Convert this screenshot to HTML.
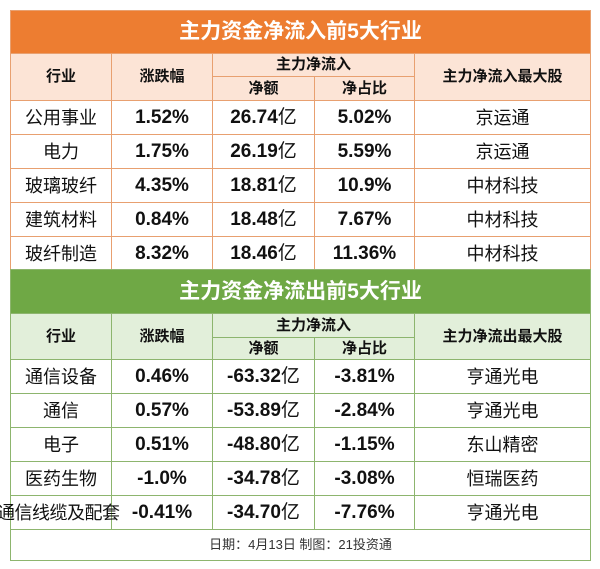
<!DOCTYPE html>
<html><head><meta charset="utf-8"><style>
body{margin:0;background:#fff;width:600px;height:569px;overflow:hidden;font-family:"Liberation Sans","Noto Sans CJK SC",sans-serif;}
table{position:absolute;left:10px;width:580px;border-collapse:collapse;table-layout:fixed;}
td{text-align:center;vertical-align:middle;padding:0;font-size:18px;line-height:20px;color:#111;white-space:nowrap;overflow:visible;}
.o td{border:1px solid #E8A070;}
.g td{border:1px solid #8DB56E;}
.t{color:#fff;font-weight:bold;font-size:21px;line-height:24px;}
.o .t{background:#ED7D31;}
.g .t{background:#6FA845;}
.h td{font-weight:bold;font-size:15px;line-height:18px;}
.o .h td{background:#FCE4D6;}
.g .h td{background:#E2EFDA;}
.n{font-weight:bold;font-size:19px;}
.f{font-size:13px;color:#333;}
</style></head><body>
<table class="o" style="top:10px">
<colgroup><col style="width:101px"><col style="width:101px"><col style="width:102px"><col style="width:100px"><col style="width:176px"></colgroup>
<tr style="height:43px"><td colspan="5" class="t">主力资金净流入前5大行业</td></tr>
<tr class="h" style="height:23px"><td rowspan="2">行业</td><td rowspan="2">涨跌幅</td><td colspan="2">主力净流入</td><td rowspan="2">主力净流入最大股</td></tr>
<tr class="h" style="height:24px"><td>净额</td><td>净占比</td></tr>
<tr style="height:34px"><td>公用事业</td><td class="n">1.52%</td><td class="n">26.74<span style="font-weight:normal">亿</span></td><td class="n">5.02%</td><td>京运通</td></tr>
<tr style="height:34px"><td>电力</td><td class="n">1.75%</td><td class="n">26.19<span style="font-weight:normal">亿</span></td><td class="n">5.59%</td><td>京运通</td></tr>
<tr style="height:34px"><td>玻璃玻纤</td><td class="n">4.35%</td><td class="n">18.81<span style="font-weight:normal">亿</span></td><td class="n">10.9%</td><td>中材科技</td></tr>
<tr style="height:34px"><td>建筑材料</td><td class="n">0.84%</td><td class="n">18.48<span style="font-weight:normal">亿</span></td><td class="n">7.67%</td><td>中材科技</td></tr>
<tr style="height:34px"><td>玻纤制造</td><td class="n">8.32%</td><td class="n">18.46<span style="font-weight:normal">亿</span></td><td class="n">11.36%</td><td>中材科技</td></tr>
</table>
<table class="g" style="top:269px">
<colgroup><col style="width:101px"><col style="width:101px"><col style="width:102px"><col style="width:100px"><col style="width:176px"></colgroup>
<tr style="height:44px"><td colspan="5" class="t">主力资金净流出前5大行业</td></tr>
<tr class="h" style="height:24px"><td rowspan="2">行业</td><td rowspan="2">涨跌幅</td><td colspan="2">主力净流入</td><td rowspan="2">主力净流出最大股</td></tr>
<tr class="h" style="height:22px"><td>净额</td><td>净占比</td></tr>
<tr style="height:34px"><td>通信设备</td><td class="n">0.46%</td><td class="n">-63.32<span style="font-weight:normal">亿</span></td><td class="n">-3.81%</td><td>亨通光电</td></tr>
<tr style="height:34px"><td>通信</td><td class="n">0.57%</td><td class="n">-53.89<span style="font-weight:normal">亿</span></td><td class="n">-2.84%</td><td>亨通光电</td></tr>
<tr style="height:34px"><td>电子</td><td class="n">0.51%</td><td class="n">-48.80<span style="font-weight:normal">亿</span></td><td class="n">-1.15%</td><td>东山精密</td></tr>
<tr style="height:34px"><td>医药生物</td><td class="n">-1.0%</td><td class="n">-34.78<span style="font-weight:normal">亿</span></td><td class="n">-3.08%</td><td>恒瑞医药</td></tr>
<tr style="height:34px"><td><span style="display:inline-block;width:101px;text-indent:-14px;letter-spacing:-0.5px">通信线缆及配套</span></td><td class="n">-0.41%</td><td class="n">-34.70<span style="font-weight:normal">亿</span></td><td class="n">-7.76%</td><td>亨通光电</td></tr>
<tr style="height:31px"><td colspan="5" class="f">日期：4月13日 制图：21投资通</td></tr>
</table>
</body></html>
